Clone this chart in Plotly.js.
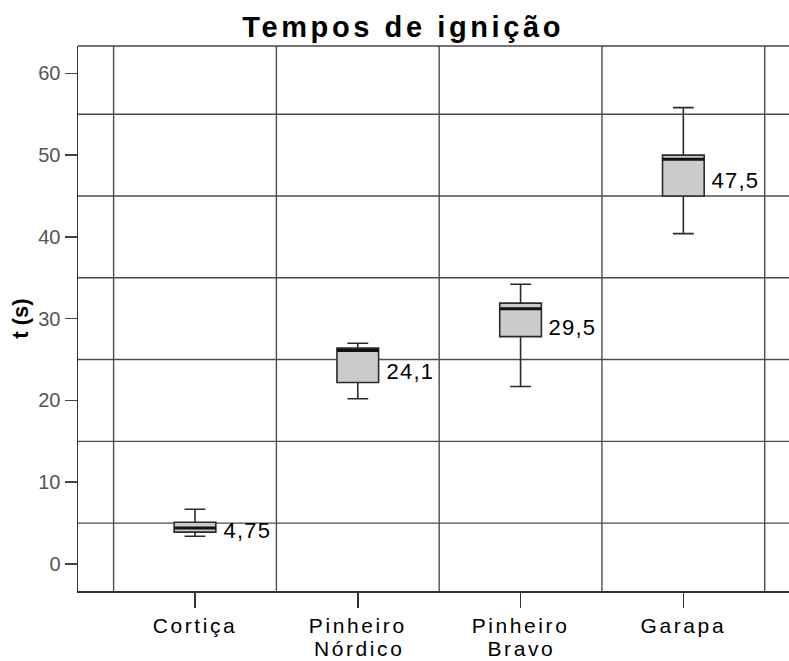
<!DOCTYPE html>
<html>
<head>
<meta charset="utf-8">
<script src="https://cdn.plot.ly/plotly-3.0.1.min.js"></script>
<style>
html,body{margin:0;padding:0;background:#fff;}
#chart{width:789px;height:661px;}
#chart .gtitle{letter-spacing:3.6px;}
#chart .xtick text{letter-spacing:2.6px;}
#chart .annotation-text{letter-spacing:1.2px;}
#chart .cat2 .annotation-text{letter-spacing:2.6px;}
</style>
</head>
<body>
<div id="chart"></div>
<script>
// Data
const categoryLine1 = ["Cortiça", "Pinheiro", "Pinheiro", "Garapa"];
const categoryLine2 = ["", "Nórdico", "Bravo", ""];
const lowerWhisker = [3.4, 20.2, 21.7, 40.4];
const q1Values     = [3.9, 22.2, 27.8, 45.0];
const medianValues = [4.4, 26.1, 31.2, 49.5];
const q3Values     = [5.1, 26.4, 31.9, 50.0];
const upperWhisker = [6.7, 27.0, 34.2, 55.8];
const meanValues   = [4.75, 24.1, 29.5, 47.5];
const meanLabels   = ["4,75", "24,1", "29,5", "47,5"];
const yTickVals    = [0, 10, 20, 30, 40, 50, 60];
const yGridVals    = [5, 15, 25, 35, 45, 55];

const positions = categoryLine1.map((c, i) => i);
const boxWidth = 0.256;
const fontFamily = "Liberation Sans, Arial, sans-serif";
const gridColor = "#4d4d4d";

const traces = [{
  type: "box",
  x: positions,
  q1: q1Values,
  median: medianValues,
  q3: q3Values,
  lowerfence: lowerWhisker,
  upperfence: upperWhisker,
  width: boxWidth,
  whiskerwidth: 0.5,
  fillcolor: "#cbcbcb",
  line: {color: "#2b2b2b", width: 1.6},
  hoverinfo: "skip",
  showlegend: false
}];

// thicker median lines, as in the reference
medianValues.forEach((m, i) => {
  traces.push({
    type: "scatter", mode: "lines",
    x: [positions[i] - boxWidth / 2, positions[i] + boxWidth / 2],
    y: [m, m],
    line: {color: "#111", width: 3},
    hoverinfo: "skip", showlegend: false
  });
});

const annotations = meanValues.map((v, i) => ({
  x: positions[i] + boxWidth / 2, y: v, xref: "x", yref: "y",
  text: meanLabels[i], showarrow: false,
  xanchor: "left", yanchor: "middle", xshift: 8, yshift: -5,
  font: {family: fontFamily, size: 22, color: "#000"}
}));

// second line of the category labels
categoryLine2.forEach((t, i) => {
  if (!t) return;
  annotations.push({
    x: positions[i], y: 0, xref: "x", yref: "paper",
    text: t, showarrow: false, xanchor: "center", yanchor: "top",
    yshift: -45, xshift: 1, borderpad: 0, name: "cat2",
    font: {family: fontFamily, size: 21, color: "#000"}
  });
});

const shapes = [];
// vertical grid lines between categories
for (let i = 0; i <= positions.length; i++) {
  shapes.push({
    type: "line", xref: "x", yref: "paper",
    x0: i - 0.5, x1: i - 0.5, y0: 0, y1: 1,
    line: {color: gridColor, width: 1.4}, layer: "below"
  });
}
yGridVals.forEach(g => shapes.push({
  type: "line", xref: "paper", yref: "y", x0: 0, x1: 1, y0: g, y1: g,
  line: {color: gridColor, width: 1.4}, layer: "below"
}));
shapes.push({type: "line", xref: "paper", yref: "paper", x0: 0, x1: 1, y0: 1, y1: 1,
  line: {color: "#444", width: 1.5}});

const layout = {
  width: 789, height: 661,
  margin: {l: 78, r: 0, t: 46, b: 70},
  paper_bgcolor: "#fff", plot_bgcolor: "#fff",
  title: {
    text: "<b>Tempos de ignição</b>",
    font: {family: fontFamily, size: 29, color: "#000"},
    x: 0.511, xref: "container", xanchor: "center",
    y: 0.959, yref: "container", yanchor: "middle"
  },
  xaxis: {
    range: [-0.7187, 3.649],
    tickvals: positions, ticktext: categoryLine1,
    ticks: "outside", ticklen: 15, tickwidth: 1.5, tickcolor: "#333",
    tickfont: {family: fontFamily, size: 21, color: "#000"},
    showgrid: false, zeroline: false,
    showline: true, linecolor: "#333", linewidth: 1.5
  },
  yaxis: {
    range: [-3.30, 63.34],
    tickvals: yTickVals,
    ticks: "outside", ticklen: 12, tickwidth: 1.5, tickcolor: "#444",
    tickfont: {family: fontFamily, size: 20, color: "#555"},
    showgrid: false, zeroline: false,
    showline: true, linecolor: "#333", linewidth: 1.5,
    title: {text: "<b>t (s)</b>", font: {family: fontFamily, size: 22, color: "#000"}, standoff: 3},
    automargin: false
  },
  shapes: shapes,
  annotations: annotations
};

Plotly.newPlot("chart", traces, layout, {displayModeBar: false, staticPlot: true}).then(() => {
  // tag the second-line category annotations for styling
  document.querySelectorAll("#chart .annotation").forEach((el, k) => {
    if (k >= meanValues.length) el.classList.add("cat2");
  });
});
</script>
</body>
</html>
